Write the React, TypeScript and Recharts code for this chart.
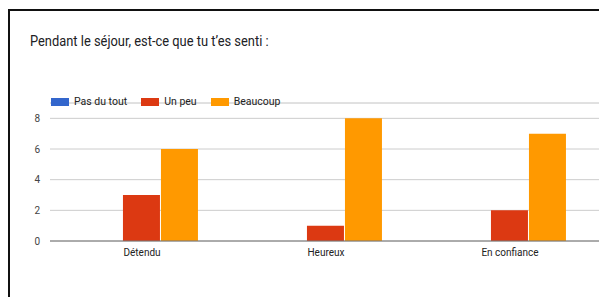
import { BarChart, Bar, XAxis, YAxis, CartesianGrid, Legend } from 'recharts';

const categories = ['Détendu', 'Heureux', 'En confiance'];
const pasDuTout = [0, 0, 0];
const unPeu = [3, 1, 2];
const beaucoup = [6, 8, 7];
const yTicks = [0, 2, 4, 6, 8];
const minorLines = [1, 3, 5, 7, 9];

const SERIES = [
  { key: 'pasDuTout', name: 'Pas du tout', color: '#3366cc' },
  { key: 'unPeu', name: 'Un peu', color: '#dc3912' },
  { key: 'beaucoup', name: 'Beaucoup', color: '#ff9900' },
];

const data = categories.map((c, i) => ({
  name: c,
  pasDuTout: pasDuTout[i],
  unPeu: unPeu[i],
  beaucoup: beaucoup[i],
}));

const FONT = 'Roboto, "Liberation Sans", Arial, sans-serif';

// keep series order (recharts sorts legend items by name otherwise)
const LegendContent = () => (
  <div style={{ display: 'flex', alignItems: 'center', fontFamily: FONT, fontSize: 10.5, color: '#222' }}>
    {SERIES.map(s => (
      <div key={s.key} style={{ display: 'flex', alignItems: 'center', marginRight: 14 }}>
        <div style={{ width: 18, height: 8, background: s.color, marginRight: 5 }} />
        <span>{s.name}</span>
      </div>
    ))}
  </div>
);

const App = () => {
  return (
    <div style={{ position: 'fixed', left: 0, top: 0, width: 599, height: 297, overflow: 'hidden', background: '#fff' }}>
      <div
        style={{
          position: 'absolute',
          left: 8,
          top: 9,
          width: 640,
          height: 300,
          borderTop: '2px solid #111',
          borderLeft: '2px solid #111',
        }}
      />
      <div
        style={{
          position: 'absolute',
          left: 30,
          top: 33,
          fontFamily: FONT,
          fontSize: 14,
          color: '#202124',
          whiteSpace: 'nowrap',
          transform: 'scaleX(0.92)',
          transformOrigin: 'left center',
        }}
      >
        Pendant le séjour, est-ce que tu t’es senti :
      </div>
      <div style={{ position: 'absolute', left: 0, top: 0 }}>
        <BarChart
          width={620}
          height={297}
          data={data}
          margin={{ top: 90, right: 18, bottom: 0, left: 0 }}
          barCategoryGap="19%"
          barGap={1}
        >
          <CartesianGrid vertical={false} yAxisId="minor" stroke="#ebebeb" />
          <CartesianGrid vertical={false} stroke="#cccccc" />
          <XAxis
            dataKey="name"
            height={56}
            tickLine={false}
            tickSize={0}
            tickMargin={8}
            axisLine={{ stroke: '#777' }}
            tick={{ fontSize: 10, fill: '#222', fontFamily: FONT }}
          />
          <YAxis
            width={50}
            domain={[0, 9]}
            ticks={yTicks}
            axisLine={false}
            tickLine={false}
            tickSize={0}
            tickMargin={10}
            tick={{ fontSize: 10, fill: '#444', fontFamily: FONT }}
          />
          <YAxis yAxisId="minor" hide domain={[0, 9]} ticks={minorLines} />
          <Legend
            verticalAlign="top"
            align="left"
            content={<LegendContent />}
            wrapperStyle={{ top: 95, left: 51, width: 'auto' }}
          />
          {SERIES.map(s => (
            <Bar key={s.key} dataKey={s.key} name={s.name} fill={s.color} isAnimationActive={false} />
          ))}
        </BarChart>
      </div>
    </div>
  );
};

export default App;
